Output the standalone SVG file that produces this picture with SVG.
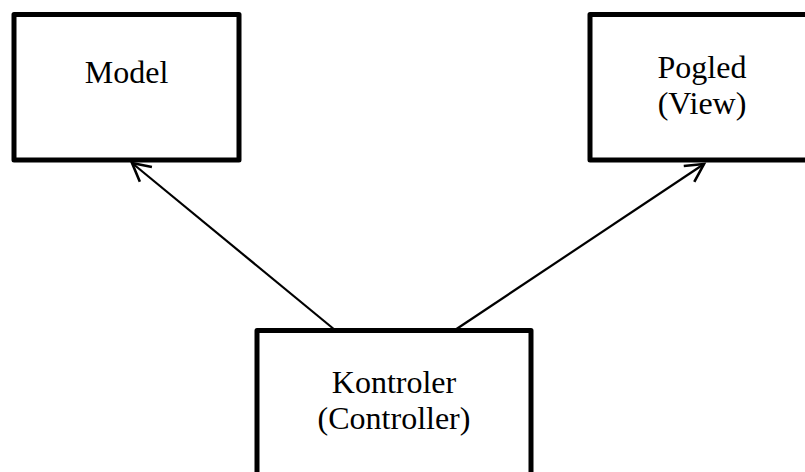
<svg xmlns="http://www.w3.org/2000/svg" width="805" height="472" viewBox="0 0 805 472">
<style>
.box{fill:#fff;stroke:#000;stroke-width:5;stroke-linejoin:round}
.lbl{font-family:"Liberation Serif","Times New Roman",serif;font-size:32px;fill:#000;text-anchor:middle}
.conn{stroke:#000;stroke-width:2.2;fill:none}
</style>
<defs>
<marker id="arr" markerUnits="userSpaceOnUse" orient="auto" markerWidth="30" markerHeight="30" viewBox="-25 -15 30 30" refX="0" refY="0">
<path d="M-18,-9.5 L0,0 L-18,9.5" fill="none" stroke="#000" stroke-width="2.6" stroke-linejoin="miter"/>
</marker>
</defs>
<rect width="805" height="472" fill="#fff"/>
<g id="connectors">
<line class="conn" x1="335" y1="330" x2="132" y2="163" marker-end="url(#arr)"/>
<line class="conn" x1="455" y1="330" x2="704" y2="164" marker-end="url(#arr)"/>
</g>
<g id="model">
<rect class="box" x="14" y="14.5" width="225" height="145.5"/>
<text class="lbl" x="126.5" y="83">Model</text>
</g>
<g id="view">
<rect class="box" x="590" y="14.5" width="225" height="145.5"/>
<text class="lbl" x="702" y="78">Pogled</text>
<text class="lbl" x="702" y="113.5">(View)</text>
</g>
<g id="controller">
<rect class="box" x="257" y="330.5" width="274" height="160"/>
<text class="lbl" x="394" y="393">Kontroler</text>
<text class="lbl" x="394" y="428.5">(Controller)</text>
</g>
</svg>
